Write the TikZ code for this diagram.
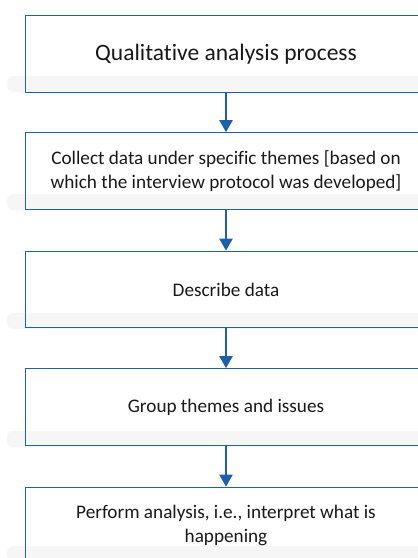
\documentclass[tikz,border=0pt]{standalone}
\usepackage{fontspec}
\setmainfont[Ligatures=NoCommon]{Carlito}
\usetikzlibrary{arrows.meta}
\definecolor{boxblue}{RGB}{30,96,170}
\definecolor{smudge}{RGB}{246,246,246}
\tikzset{
  stepbox/.style={draw=boxblue, line width=1.1pt, minimum width=401.4pt,
    minimum height=76.5pt, align=center, inner sep=0pt, text=black!90,
    font=\fontsize{19.2}{24}\selectfont},
  titlebox/.style={stepbox, font=\fontsize{23.5}{28}\selectfont},
  flow/.style={draw=boxblue, line width=2pt, -{Triangle[length=12pt, width=13pt]}},
  smudgeband/.style={fill=smudge, draw=none, rounded corners=6pt}
}
\begin{document}
\begin{tikzpicture}[x=1pt, y=-1pt]
\useasboundingbox (0,0) rectangle (418,558);
\fill[white] (0,0) rectangle (418,558);
% faint smudges behind boxes
\foreach \yb in {91, 209, 328, 446} {
  \fill[smudgeband] (7,\yb-15) rectangle (425,\yb+1);
}
\fill[smudgeband] (7,558-12) rectangle (425,560);
\node[titlebox] (b1) at (226,54) {Qualitative analysis process};
\node[stepbox] (b2) at (226,171) {Collect data under specific themes [based on\\which the interview protocol was developed]};
\node[stepbox] (b3) at (226,289.5) {Describe data};
\node[stepbox] (b4) at (226,407) {Group themes and issues};
\node[stepbox] (b5) at (226,525.5) {Perform analysis, i.e., interpret what is\\happening};
\draw[flow] (b1.south) -- (b2.north);
\draw[flow] (b2.south) -- (b3.north);
\draw[flow] (b3.south) -- (b4.north);
\draw[flow] (b4.south) -- (b5.north);
\end{tikzpicture}
\end{document}
